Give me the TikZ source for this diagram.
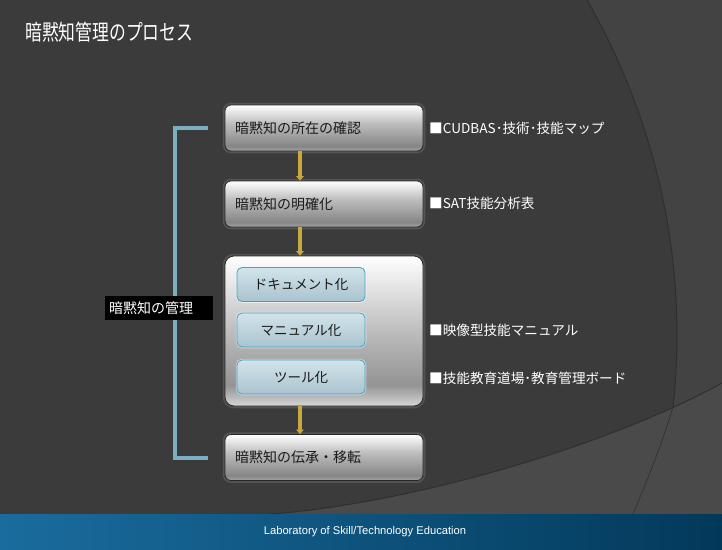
\documentclass[tikz,border=0pt]{standalone}
\usepackage{fontspec}
\setmainfont{Noto Sans CJK JP}
\newfontfamily\lsans{Liberation Sans}
\usetikzlibrary{arrows.meta,calc}
\definecolor{bgdark}{HTML}{3B3B3B}
\definecolor{bgright}{HTML}{434343}
\definecolor{bglow}{HTML}{4A4A4A}
\definecolor{edge}{HTML}{2F2F2F}
\definecolor{footl}{HTML}{1A6C9E}
\definecolor{footr}{HTML}{02395A}
\definecolor{gold}{HTML}{C9A93C}
\definecolor{brk}{HTML}{79AFC0}
\definecolor{ibord}{HTML}{3FA0C2}
\definecolor{itop}{HTML}{D2E4EA}
\definecolor{ibot}{HTML}{A9C3CE}
\definecolor{txt}{HTML}{1A1A1A}
\definecolor{sbot}{HTML}{A8A8A8}
\definecolor{sdark}{HTML}{858585}
\definecolor{bbot}{HTML}{D6D6D6}
\definecolor{bdark}{HTML}{939393}
\definecolor{bmid}{HTML}{BDBDBD}
\pgfdeclareverticalshading{boxshade}{100bp}{color(0bp)=(sbot); color(25bp)=(sbot); color(30bp)=(sdark); color(55bp)=(bmid); color(75bp)=(white); color(100bp)=(white)}
\pgfdeclareverticalshading{bigshade}{100bp}{color(0bp)=(bbot); color(25bp)=(bbot); color(32bp)=(bdark); color(50bp)=(bmid); color(75bp)=(white); color(100bp)=(white)}
\tikzset{
  glow/.style={preaction={draw=gray!75!black, line width=4.5pt, opacity=0.7}},
  box/.style={rounded corners=6pt, draw=black!85, line width=0.8pt, shading=boxshade, glow,
    minimum width=198pt, minimum height=46pt, text width=178pt, inner xsep=10pt, inner ysep=0pt, align=left,
    text=txt, font=\fontsize{14}{14}\selectfont},
  bigbox/.style={rounded corners=9pt, draw=black!85, line width=0.8pt, shading=bigshade, glow,
    minimum width=198pt, minimum height=150pt, inner sep=0pt},
  innerbox/.style={rounded corners=5pt, draw=ibord, line width=0.8pt, top color=itop, bottom color=ibot,
    preaction={draw=white, line width=2.5pt, opacity=0.5},
    minimum width=128pt, minimum height=34pt, inner sep=0pt, text=txt, font=\fontsize{13.5}{13.5}\selectfont},
  flow/.style={draw=gold, line width=3.2pt, -{Triangle[width=7.5pt,length=4.5pt]}},
  bracket/.style={draw=brk, line width=4pt},
  note/.style={anchor=west, text=white, inner sep=0pt, font=\fontsize{13.6}{13.6}\selectfont},
}
\begin{document}
\begin{tikzpicture}[x=1pt,y=-1pt]
\useasboundingbox (0,0) rectangle (722,549);
% background
\fill[bgdark] (0,0) rectangle (722,549);
\fill[bgright] (587,0) .. controls (650,110) and (690,250) .. (673,407) -- (722,383) -- (722,0) -- cycle;
\fill[bglow] (270,514) .. controls (400,505) and (600,450) .. (722,383) -- (722,514) -- cycle;
\draw[edge, line width=1pt] (587,0) .. controls (650,110) and (690,250) .. (673,407);
\draw[edge, line width=1pt] (270,514) .. controls (400,505) and (600,450) .. (722,383);
\draw[bgdark!80!black, line width=0.6pt] (673,407) .. controls (660,450) and (645,485) .. (633,514);
% footer
\shade[left color=footl, right color=footr] (0,514) rectangle (722,549);
\node[text=white, font=\lsans\fontsize{11.2}{11.2}\selectfont] (foot) at (365,532) {Laboratory of Skill/Technology Education};
% title
\node[anchor=west, text=white, inner sep=0pt, font=\fontsize{16.8}{16.8}\selectfont] (title) at (25,32) {\scalebox{1}[1.3]{暗黙知管理のプロセス}};
% boxes
\node[box] (b1) at (324,128) {暗黙知の所在の確認};
\node[box] (b2) at (324,204) {暗黙知の明確化};
\node[bigbox] (b3) at (324,331) {};
\node[innerbox] (i1) at (301,284.5) {ドキュメント化};
\node[innerbox] (i2) at (301,330) {マニュアル化};
\node[innerbox] (i3) at (301,377) {ツール化};
\node[box] (b4) at (324,457.5) {暗黙知の伝承・移転};
% arrows
\draw[flow] ([xshift=-24pt]b1.south) -- ([xshift=-24pt]b2.north);
\draw[flow] ([xshift=-24pt]b2.south) -- ([xshift=-24pt]b3.north);
\draw[flow] ([xshift=-24pt]b3.south) -- ([xshift=-24pt]b4.north);
% bracket
\draw[bracket] ([xshift=-17pt]b1.west) -- ++(-33,0) |- ([xshift=-17pt]b4.west);
\node[fill=black, text=white, minimum width=108pt, minimum height=24pt, text width=100pt, inner xsep=4pt, align=left, font=\fontsize{14}{14}\selectfont] (lab) at (159,308) {暗黙知の管理};
% notes
\node[note] (n1) at (429,128) {■CUDBAS･技術･技能マップ};
\node[note] (n2) at (429,203) {■SAT技能分析表};
\node[note] (n3) at (429,330) {■映像型技能マニュアル};
\node[note] (n4) at (429,378) {■技能教育道場･教育管理ボード};
\end{tikzpicture}
\end{document}
